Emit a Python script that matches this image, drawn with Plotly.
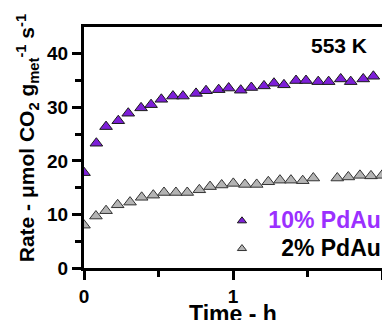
import plotly.graph_objects as go

time_10 = [0.0, 0.083, 0.148, 0.23, 0.297, 0.383, 0.45, 0.519, 0.597, 0.664, 0.752, 0.819, 0.904, 0.971,
           1.052, 1.123, 1.208, 1.275, 1.342, 1.423, 1.49, 1.572, 1.642, 1.723, 1.79, 1.874, 1.942]
rate_10 = [17.8, 23.3, 26.4, 27.5, 28.9, 29.9, 30.5, 31.5, 32.1, 32.1, 32.6, 33.1, 33.3, 33.6,
           33.2, 33.7, 34.0, 34.5, 34.2, 35.0, 35.0, 34.8, 34.8, 35.3, 34.8, 35.3, 35.8]

time_2 = [0.0, 0.08, 0.148, 0.226, 0.309, 0.387, 0.465, 0.537, 0.617, 0.693, 0.774, 0.846, 0.924, 1.002,
          1.08, 1.159, 1.237, 1.315, 1.389, 1.468, 1.539, 1.70, 1.774, 1.852, 1.926, 2.0]
rate_2 = [8.0, 9.7, 10.7, 11.8, 12.3, 13.2, 13.6, 14.1, 14.1, 14.1, 14.6, 15.2, 15.5, 15.8,
          15.6, 15.6, 16.1, 16.4, 16.4, 16.3, 16.8, 16.8, 17.0, 17.3, 17.2, 17.3]

x_ticks = [0, 1, 2]
y_ticks = [0, 10, 20, 30, 40]

FONT = "Liberation Sans, Arial, sans-serif"
PURPLE = "#7d1fd8"
PURPLE_TXT = "#9b30ff"
GRAY = "#b4b4b4"

fig = go.Figure()
fig.add_trace(go.Scatter(
    x=time_10, y=rate_10, mode="markers", showlegend=False,
    marker=dict(symbol="triangle-up", size=11, color=PURPLE, line=dict(color="#1a1a1a", width=1))))
fig.add_trace(go.Scatter(
    x=time_2, y=rate_2, mode="markers", showlegend=False,
    marker=dict(symbol="triangle-up", size=11, color=GRAY, line=dict(color="#333333", width=1))))
# legend entries (small symbols, as in the reference)
fig.add_trace(go.Scatter(
    x=[None], y=[None], mode="markers",
    name=f"<span style='color:{PURPLE_TXT};font-size:23px'>&nbsp;10% PdAu</span>",
    marker=dict(symbol="triangle-up", size=8, color=PURPLE, line=dict(color="#1a1a1a", width=1))))
fig.add_trace(go.Scatter(
    x=[None], y=[None], mode="markers",
    name="<span style='font-size:23px'>&nbsp;&nbsp;&nbsp;2% PdAu</span>",
    marker=dict(symbol="triangle-up", size=8, color=GRAY, line=dict(color="#333333", width=1))))

fig.update_layout(
    width=382, height=320,
    margin=dict(l=84, r=0, t=27, b=52, autoexpand=False),
    paper_bgcolor="white", plot_bgcolor="white",
    font=dict(family=FONT, size=19, color="black"),
    showlegend=True,
    legend=dict(x=0.463, y=0.137, xanchor="left", yanchor="middle",
                bgcolor="rgba(0,0,0,0)", font=dict(family=FONT, size=19, color="black", weight="bold"),
                itemsizing="trace", tracegroupgap=0, itemwidth=30),
    xaxis=dict(range=[0, 2], tickvals=x_ticks, ticktext=[f"<b>{v}</b>" for v in x_ticks],
               showline=True, linewidth=3, linecolor="black", mirror=True,
               ticks="outside", ticklen=9, tickwidth=3, tickcolor="black",
               minor=dict(tickvals=[0.5, 1.5], ticks="outside", ticklen=6, tickwidth=3, tickcolor="black"),
               showgrid=False, zeroline=False, automargin=False,
               tickfont=dict(size=19, family=FONT)),
    yaxis=dict(range=[0, 45], tickvals=y_ticks, ticktext=[f"<b>{v}</b>" for v in y_ticks],
               showline=True, linewidth=3, linecolor="black",
               ticks="outside", ticklen=9, tickwidth=3, tickcolor="black",
               minor=dict(tickvals=[5, 15, 25, 35], ticks="outside", ticklen=6, tickwidth=3, tickcolor="black"),
               showgrid=False, zeroline=False, automargin=False,
               tickfont=dict(size=19, family=FONT)),
    annotations=[
        dict(text="<b>553 K</b>", x=0.955, y=0.925, xref="paper", yref="paper",
             xanchor="right", yanchor="middle", showarrow=False,
             font=dict(size=21, family=FONT, color="black")),
        dict(text="<b>Time - h</b>", x=0.5, y=-0.19, xref="paper", yref="paper",
             xanchor="center", yanchor="middle", showarrow=False,
             font=dict(size=23, family=FONT, color="black")),
        dict(text="<b>Rate - μmol CO<sub>2</sub> g<sub>met</sub><sup>-1</sup> s<sup>-1</sup></b>",
             x=-0.19, y=0.54, xref="paper", yref="paper", textangle=-90,
             xanchor="center", yanchor="middle", showarrow=False,
             font=dict(size=21, family=FONT, color="black")),
    ],
)

fig.write_html("out.html", config={"displayModeBar": False},
               post_script="document.body.style.margin='0';")
